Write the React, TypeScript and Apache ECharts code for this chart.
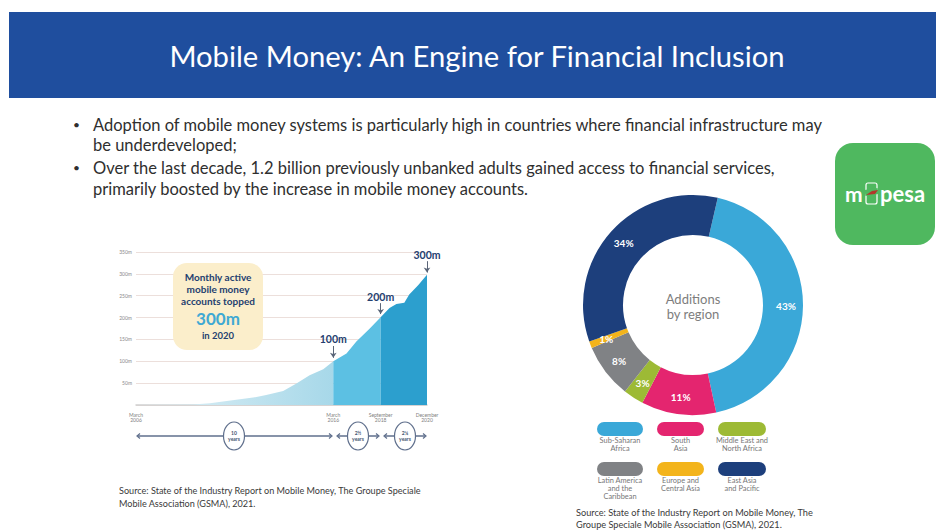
import React, { useEffect, useRef } from "react";
import * as echarts from "echarts";

const titleText = "Mobile Money: An Engine for Financial Inclusion";
const bulletLines = [
  "Adoption of mobile money systems is particularly high in countries where financial infrastructure may",
  "be underdeveloped;",
  "Over the last decade, 1.2 billion previously unbanked adults gained access to financial services,",
  "primarily boosted by the increase in mobile money accounts.",
];
const phase1: number[][] = [[0, 0], [2.9, 1], [3.75, 4], [4.6, 9], [5.94, 17], [6.6, 23], [7.46, 32], [8.13, 49], [8.8, 68], [9.49, 82], [10, 100]];
const phase2: number[][] = [[10, 100], [10.67, 118], [11.17, 145], [11.85, 175], [12.4, 201]];
const phase3: number[][] = [[12.4, 201], [12.85, 222], [13.2, 231], [13.6, 234], [13.85, 253], [14.3, 274], [14.75, 298]];
const xTickValues = [0, 10, 12.4, 14.75];
const xTickLabels = ["March\n2006", "March\n2016", "September\n2018", "December\n2020"];
const regionNames = ["Sub-Saharan\nAfrica", "South\nAsia", "Middle East and\nNorth Africa", "Latin America\nand the\nCaribbean", "Europe and\nCentral Asia", "East Asia\nand Pacific"];
const regionValues = [43, 11, 3, 8, 1, 34];
const regionColors = ["#3aa8d8", "#e4256f", "#9dba35", "#808285", "#f3b41b", "#1d3f7c"];
const FONT = "Lato, 'Open Sans', sans-serif";

function t(text: string, x: number, y: number, size: number, fill: string, extra: any = {}) {
  return { type: "text", x, y, z: 20, style: { text, fontSize: size, fill, fontFamily: FONT, textVerticalAlign: "middle", verticalAlign: "middle", ...extra } };
}

export default function App() {
  const ref = useRef<HTMLDivElement>(null);
  useEffect(() => {
    const chart = echarts.init(ref.current!, undefined, { renderer: "svg" });
    const timeline = [
      { a: 136, b: 333, c: 234, label: "10\nyears" },
      { a: 336, b: 380, c: 358, label: "2½\nyears" },
      { a: 383, b: 427, c: 405, label: "2¼\nyears" },
    ];
    const graphics: any[] = [
      { type: "rect", z: 1, shape: { x: 9, y: 12, width: 927, height: 86 }, style: { fill: "#1f4e9e" } },
      t(titleText, 477, 55, 29.2, "#ffffff", { textAlign: "center" }),
      ...bulletLines.map((line, i) => t(line, 93, [125, 145, 168, 189][i], 16.5, "#2f2f2f")),
      t("•", 73, 124, 12, "#2f2f2f"),
      t("•", 73, 167, 12, "#2f2f2f"),
      // callout
      { type: "rect", z: 10, shape: { x: 173, y: 263, width: 90, height: 87, r: 14 }, style: { fill: "#fbeecb" } },
      ...["Monthly active", "mobile money", "accounts topped"].map((s, i) =>
        t(s, 218, [277, 289, 301][i], 10, "#24406f", { textAlign: "center", fontWeight: "bold" })),
      t("300m", 218, 318, 17, "#3fa9d3", { textAlign: "center", fontWeight: "bold" }),
      t("in 2020", 218, 335, 9.5, "#24406f", { textAlign: "center", fontWeight: "bold" }),
      // timeline
      ...timeline.flatMap((s) => [
        { type: "line", z: 10, shape: { x1: s.a + 2, y1: 436, x2: s.b - 2, y2: 436 }, style: { stroke: "#5f6f8c", lineWidth: 1.6 } },
        { type: "polyline", z: 10, shape: { points: [[s.a + 4, 433.5], [s.a + 1, 436], [s.a + 4, 438.5]] }, style: { stroke: "#5f6f8c", fill: "none", lineWidth: 1.2 } },
        { type: "polyline", z: 10, shape: { points: [[s.b - 4, 433.5], [s.b - 1, 436], [s.b - 4, 438.5]] }, style: { stroke: "#5f6f8c", fill: "none", lineWidth: 1.2 } },
        { type: "ellipse", z: 11, shape: { cx: s.c, cy: 436, rx: 10.5, ry: 14 }, style: { fill: "#ffffff", stroke: "#5f6f8c", lineWidth: 1.2 } },
        t(s.label, s.c, 436, 5, "#44546f", { textAlign: "center", fontWeight: "bold", lineHeight: 6 }),
      ]),
      t("Source: State of the Industry Report on Mobile Money, The Groupe Speciale", 119, 490, 9.1, "#3a3a3a"),
      t("Mobile Association (GSMA), 2021.", 119, 503, 9.1, "#3a3a3a"),
      t("Source: State of the Industry Report on Mobile Money, The", 576, 512, 9.2, "#3a3a3a"),
      t("Groupe Speciale Mobile Association (GSMA), 2021.", 576, 524, 9.2, "#3a3a3a"),
      // donut centre
      t("Additions", 693, 299, 13, "#7d7d7d", { textAlign: "center" }),
      t("by region", 693, 314, 13, "#7d7d7d", { textAlign: "center" }),
      // legend
      ...regionNames.flatMap((name, i) => {
        const col = i % 3, row = Math.floor(i / 3);
        const left = [597, 657, 718][col], w = [46, 47, 48][col];
        const top = [422, 462][row];
        return [
          { type: "rect", z: 10, shape: { x: left, y: top, width: w, height: 14, r: 7 }, style: { fill: regionColors[i] } },
          t(name, left + w / 2, top + 22 + (name.split("\n").length - 2) * 4, 7.4, "#777777", { textAlign: "center", lineHeight: 8 }),
        ];
      }),
      // logo
      { type: "rect", z: 10, shape: { x: 835, y: 143, width: 100, height: 102, r: 18 }, style: { fill: "#4fb85f" } },
      t("m", 845, 193, 21, "#ffffff", { fontWeight: "bold" }),
      t("pesa", 880, 193, 22, "#ffffff", { fontWeight: "bold" }),
      { type: "rect", z: 10, shape: { x: 866, y: 183, width: 11, height: 21, r: 2 }, style: { fill: "none", stroke: "#ffffff", lineWidth: 1.2 } },
      { type: "line", z: 11, shape: { x1: 865, y1: 193, x2: 878, y2: 191 }, style: { stroke: "#4fb85f", lineWidth: 6 } },
      { type: "polygon", z: 12, shape: { points: [[866, 195], [872, 191], [878, 190], [875, 194]] }, style: { fill: "#b5352a" } },
    ];
    const marker = (x: number, top: number, tip: number, label: string) => [
      { coord: [x, top], symbol: "none", label: { show: true, formatter: label, position: "start", distance: 1, fontFamily: FONT, fontWeight: "bold", fontSize: 10.5, color: "#24406f" } },
      { coord: [x, tip], symbol: "arrow" },
    ];
    chart.setOption({
      animation: false,
      backgroundColor: "#ffffff",
      grid: { left: 136, top: 252, width: 291, height: 153 },
      xAxis: {
        type: "value", min: 0, max: 14.75,
        splitLine: { show: false }, axisTick: { show: false },
        axisLine: { lineStyle: { color: "#cfcfcf", width: 1.5 } },
        axisLabel: {
          customValues: xTickValues, fontSize: 5, color: "#808080", lineHeight: 5.5, margin: 7, fontFamily: FONT,
          formatter: (v: number) => xTickLabels[xTickValues.indexOf(v)] ?? "",
        },
      },
      yAxis: {
        type: "value", min: 0, max: 350, interval: 50,
        axisLine: { show: false }, axisTick: { show: false },
        splitLine: { lineStyle: { color: "#ecdfdb", width: 1 } },
        axisLabel: { fontSize: 5, color: "#8a8a8a", margin: 4, fontFamily: FONT, formatter: (v: number) => (v ? `${v}m` : "") },
      },
      series: [
        {
          type: "line", data: phase1, symbol: "none", lineStyle: { width: 0 },
          areaStyle: { opacity: 1, color: new echarts.graphic.LinearGradient(0, 0, 1, 0, [{ offset: 0, color: "#e3f2f7" }, { offset: 1, color: "#a7d8e9" }]) },
        },
        { type: "line", data: phase2, symbol: "none", lineStyle: { width: 0 }, areaStyle: { opacity: 1, color: "#5cc0e3" } },
        {
          type: "line", data: phase3, symbol: "none", lineStyle: { width: 0 }, areaStyle: { opacity: 1, color: "#2c9fce" },
          markLine: {
            silent: true, animation: false, symbolSize: 5,
            lineStyle: { color: "#5a6578", width: 1, type: "solid" },
            data: [marker(10, 135, 108, "100m"), marker(12.4, 233, 208, "200m"), marker(14.75, 329, 303, "300m")],
          },
        },
        {
          type: "pie", center: [693, 305], radius: [70, 110], startAngle: 77, clockwise: true,
          data: regionValues.map((value, i) => ({ value, name: regionNames[i].replace(/\n/g, " "), itemStyle: { color: regionColors[i] } })),
          label: { show: true, position: "inside", formatter: "{c}%", color: "#ffffff", fontWeight: "bold", fontSize: 10, fontFamily: FONT },
          labelLine: { show: false },
          itemStyle: { borderWidth: 0 },
        },
      ],
      graphic: graphics,
    });
    return () => chart.dispose();
  }, []);
  return <div ref={ref} style={{ position: "absolute", left: 0, top: 0, width: 936, height: 531 }} />;
}
